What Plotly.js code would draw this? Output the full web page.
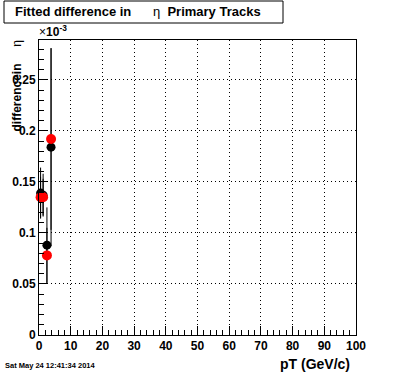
<!DOCTYPE html>
<html>
<head>
<meta charset="utf-8">
<script src="https://cdn.plot.ly/plotly-3.0.1.min.js"></script>
<style>html,body{margin:0;padding:0;background:#fff;}#chart{width:396px;height:372px;}</style>
</head>
<body>
<div id="chart"></div>
<script>
// values in units of 1e-3
const pt = [0.5, 1.3, 2.5, 3.8];
const blackY = [0.139, 0.137, 0.088, 0.184];
const blackErr = [0.025, 0.021, 0.037, 0.097];
const redY = [0.135, 0.135, 0.078, 0.192];
const redErr = [0.020, 0.018, 0.027, 0.089];
const xTicks = [0, 10, 20, 30, 40, 50, 60, 70, 80, 90, 100];
const yTicks = [0, 0.05, 0.1, 0.15, 0.2, 0.25];

const W = 396, H = 372, L = 39, R = 40, T = 40, B = 37;
const pw = W - L - R, ph = H - T - B;
const px = v => (v - L) / pw;
const py = v => (H - B - v) / ph;
const F = 'Liberation Sans, Arial, sans-serif';

const traces = [
  {x: pt, y: blackY, type: 'scatter', mode: 'markers',
   marker: {color: '#000', size: 9},
   error_y: {type: 'data', array: blackErr, visible: true, color: '#000', thickness: 1, width: 0},
   showlegend: false, cliponaxis: false},
  {x: pt, y: redY, type: 'scatter', mode: 'markers',
   marker: {color: '#ff0000', size: 10},
   error_y: {type: 'data', array: redErr, visible: true, color: '#000', thickness: 1, width: 0},
   showlegend: false, cliponaxis: false}
];

const axBase = {
  showline: true, linecolor: '#000', linewidth: 1, mirror: true,
  showgrid: true, gridcolor: '#000', gridwidth: 1, griddash: '1px,3px',
  zeroline: false, ticks: 'inside', ticklen: 9, tickcolor: '#000',
  tickfont: {family: F, size: 12, color: '#000', weight: 'bold'}
};

const layout = {
  width: W, height: H,
  margin: {l: L, r: R, t: T, b: B, pad: 0},
  paper_bgcolor: '#fff', plot_bgcolor: '#fff',
  xaxis: Object.assign({}, axBase, {
    range: [0, 100], tickvals: xTicks, ticktext: xTicks.map(String),
    minor: {dtick: 2, ticklen: 5, ticks: 'inside', tickcolor: '#000', showgrid: false}
  }),
  yaxis: Object.assign({}, axBase, {
    range: [0, 0.289], tickvals: yTicks, ticktext: yTicks.map(String),
    minor: {dtick: 0.01, ticklen: 5, ticks: 'inside', tickcolor: '#000', showgrid: false}
  }),
  shapes: [
    {type: 'rect', xref: 'paper', yref: 'paper', x0: px(4), x1: px(283), y0: py(23), y1: py(1),
     line: {color: '#000', width: 1}, fillcolor: '#fff', layer: 'above'}
  ],
  annotations: [
    {xref: 'paper', yref: 'paper', x: px(13), y: py(12), xanchor: 'left', yanchor: 'middle', showarrow: false,
     text: '<b>Fitted difference in</b>\u00a0\u00a0\u00a0\u00a0\u00a0\u00a0η\u00a0\u00a0<b>Primary Tracks</b>',
     font: {family: F, size: 13, color: '#000'}},
    {xref: 'paper', yref: 'paper', x: px(37), y: py(31), xanchor: 'left', yanchor: 'middle', showarrow: false,
     text: '×<b>10</b><sup><b>-3</b></sup>', font: {family: F, size: 12, color: '#000'}},
    {xref: 'paper', yref: 'paper', x: px(16), y: py(38), xanchor: 'center', yanchor: 'top', showarrow: false,
     textangle: -90, text: '<b>differencein</b>\u00a0\u00a0\u00a0\u00a0\u00a0η',
     font: {family: F, size: 12, color: '#000'}},
    {xref: 'paper', yref: 'paper', x: px(352), y: py(364), xanchor: 'right', yanchor: 'middle', showarrow: false,
     text: '<b>pT (GeV/c)</b>', font: {family: F, size: 14, color: '#000'}},
    {xref: 'paper', yref: 'paper', x: px(3), y: py(365), xanchor: 'left', yanchor: 'middle', showarrow: false,
     text: '<b>Sat May 24 12:41:34 2014</b>', font: {family: F, size: 7.5, color: '#000'}}
  ]
};

Plotly.newPlot('chart', traces, layout, {staticPlot: true, displayModeBar: false});
</script>
</body>
</html>
